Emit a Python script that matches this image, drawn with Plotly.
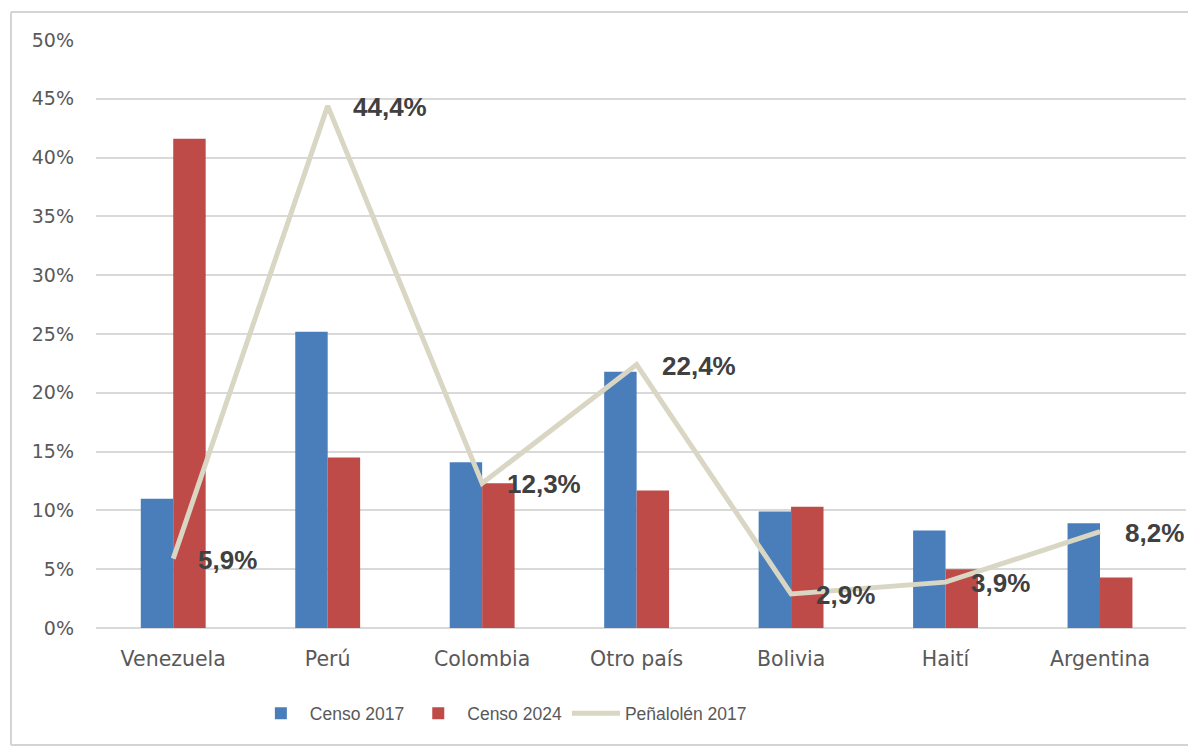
import plotly.graph_objects as go

categories = ["Venezuela", "Perú", "Colombia", "Otro país", "Bolivia", "Haití", "Argentina"]
censo_2017 = [11.0, 25.2, 14.1, 21.8, 9.9, 8.3, 8.9]
censo_2024 = [41.6, 14.5, 12.3, 11.7, 10.3, 5.0, 4.3]
penalolen_2017 = [5.9, 44.4, 12.3, 22.4, 2.9, 3.9, 8.2]
y_ticks = [0, 5, 10, 15, 20, 25, 30, 35, 40, 45, 50]
y_tick_labels = [f"{v}%" for v in y_ticks]

fig = go.Figure()
fig.add_trace(go.Bar(x=categories, y=censo_2017, name="Censo 2017",
                     marker=dict(color="#4a7ebb", line=dict(width=0))))
fig.add_trace(go.Bar(x=categories, y=censo_2024, name="Censo 2024",
                     marker=dict(color="#be4b48", line=dict(width=0))))
fig.add_trace(go.Scatter(x=categories, y=penalolen_2017, name="Peñalolén 2017",
                         mode="lines", line=dict(color="#d9d6c4", width=5)))

for c, v in zip(categories, penalolen_2017):
    fig.add_annotation(x=c, y=v, text="<b>" + f"{v:.1f}%".replace(".", ",") + "</b>",
                       showarrow=False, xanchor="left", yanchor="middle",
                       xshift=23, yshift=-1,
                       font=dict(family="Liberation Sans", size=26, color="#404040"))

# chart frame (left, top, bottom edges; right edge lies outside the picture)
frame_style = dict(color="#d4d4d4", width=2)
fig.add_shape(type="line", xref="paper", yref="paper", x0=-0.078, x1=-0.078,
              y0=-0.199, y1=1.0476, line=frame_style, layer="below")
fig.add_shape(type="line", xref="paper", yref="paper", x0=-0.078, x1=1.2,
              y0=1.0476, y1=1.0476, line=frame_style, layer="below")
fig.add_shape(type="line", xref="paper", yref="paper", x0=-0.078, x1=1.2,
              y0=-0.199, y1=-0.199, line=frame_style, layer="below")

fig.update_layout(
    width=1196, height=747,
    margin=dict(l=88, r=18, t=32, b=127),
    paper_bgcolor="white", plot_bgcolor="white",
    barmode="group", bargap=0.58, bargroupgap=0,
    showlegend=True,
    legend=dict(orientation="h", x=0.143, xanchor="left", y=-0.145, yanchor="middle",
                font=dict(family="Liberation Sans", size=17.5, color="#595959"),
                traceorder="normal", itemwidth=48),
    font=dict(family="DejaVu Sans", size=20, color="#595959"),
)
fig.update_yaxes(range=[0, 50], tickvals=y_ticks, ticktext=y_tick_labels,
                 showgrid=True, gridcolor="#d9d9d9", gridwidth=1.5,
                 zeroline=True, zerolinecolor="#d9d9d9", zerolinewidth=1.5,
                 ticks="", ticklabelstandoff=21, showline=False,
                 tickfont=dict(family="DejaVu Sans", size=19, color="#595959"))
fig.update_xaxes(showgrid=False, ticks="", showline=False, ticklabelstandoff=16,
                 tickfont=dict(family="DejaVu Sans", size=20.5, color="#595959"))

fig.write_html("out.html")
